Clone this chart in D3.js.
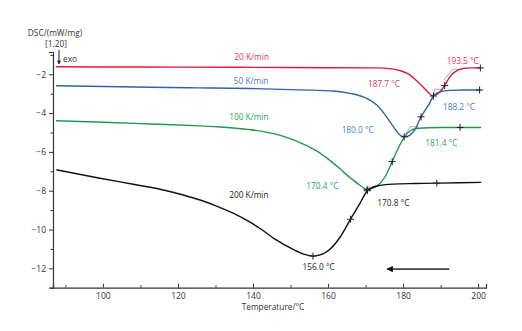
<!DOCTYPE html>
<html><head><meta charset="utf-8">
<script src="https://cdn.jsdelivr.net/npm/d3@7"></script>
<style>
html,body{margin:0;padding:0;background:#fff;}
svg{display:block;font-family:"Open Sans",sans-serif;}
</style></head>
<body>
<svg id="chart" width="522" height="331"></svg>
<script>
// ---- data ----
const redT   = [87.5, 100, 120, 140, 160, 172, 177, 179.2, 181.9, 183.6, 185.4, 186.8, 187.7, 189.4, 190.9, 192.5, 194.3, 196.1, 198, 200.8];
const redV   = [-1.61, -1.62, -1.63, -1.64, -1.66, -1.67, -1.72, -1.81, -2.04, -2.33, -2.67, -2.95, -3.10, -2.98, -2.64, -2.12, -1.81, -1.70, -1.67, -1.67];
const blueT  = [87.5, 100, 112.5, 125, 139.2, 152.5, 161.4, 165.9, 170.3, 173, 175.6, 177.4, 179.2, 180.3, 181.9, 183.2, 184.8, 186.8, 188.1, 189.9, 192.5, 196, 200.6];
const blueV  = [-2.59, -2.63, -2.67, -2.70, -2.73, -2.80, -2.86, -2.98, -3.24, -3.58, -4.19, -4.70, -5.13, -5.22, -5.13, -4.84, -4.19, -3.58, -3.12, -2.90, -2.83, -2.81, -2.81];
const greenT = [87.5, 100, 112.5, 125.9, 130.3, 139.2, 146.3, 149.9, 152.5, 155.2, 157, 159, 161.4, 163.6, 165.9, 168.5, 170.4, 173, 175.2, 177.1, 178.7, 180.3, 181.9, 184.1, 189.9, 195, 200.8];
const greenV = [-4.39, -4.47, -4.56, -4.66, -4.70, -4.85, -5.10, -5.32, -5.52, -5.76, -5.95, -6.22, -6.58, -6.95, -7.33, -7.72, -7.93, -7.76, -7.28, -6.50, -5.81, -5.25, -4.91, -4.78, -4.74, -4.74, -4.74];
const blackT = [87.6, 99.2, 108.1, 117, 121.4, 125.9, 130.3, 134.7, 139.2, 141.9, 146.3, 150.7, 153.5, 156.0, 159.7, 163.2, 166, 168.5, 170.5, 173, 177.4, 183, 189, 195, 200.8];
const blackV = [-6.92, -7.36, -7.67, -8.0, -8.22, -8.48, -8.79, -9.16, -9.62, -9.95, -10.55, -11.03, -11.27, -11.37, -11.14, -10.40, -9.47, -8.65, -8.0, -7.76, -7.66, -7.63, -7.61, -7.59, -7.57];

const seriesNames = ["20 K/min", "50 K/min", "100 K/min", "200 K/min"];

// "+" evaluation markers [T, value]
const redMarks   = [[191.1, -2.58], [200.6, -1.67]];
const blueMarks  = [[180.3, -5.22], [184.8, -4.19], [188.1, -3.12], [200.4, -2.81]];
const greenMarks = [[170.4, -7.93], [177.1, -6.50], [195.2, -4.74]];
const blackMarks = [[156.0, -11.37], [166.0, -9.47], [170.5, -8.0], [189.0, -7.61]];

// onset tangent constructions [T, value]
const redTangent   = [[190.9, -2.29], [193.2, -1.74], [194.8, -1.74]];
const blueTangent  = [[188.0, -3.12], [188.5, -2.77], [190.3, -2.77]];
const greenTangent = [[180.5, -5.13], [181.9, -4.70], [184.0, -4.70]];
const blackTangent = [[168.1, -8.82], [170.7, -7.82], [173.0, -7.81]];

// peak / onset result labels
const redLabels   = ["187.7 °C", "193.5 °C"];
const blueLabels  = ["180.0 °C", "188.2 °C"];
const greenLabels = ["181.4 °C", "170.4 °C"];
const blackLabels = ["170.8 °C", "156.0 °C"];

const xTicks = [100, 120, 140, 160, 180, 200];
const yTicks = [-2, -4, -6, -8, -10, -12];

// ---- layout ----
const svg = d3.select("#chart");
const x = d3.scaleLinear().domain([86.7, 202.1]).range([53, 486]);
const y = d3.scaleLinear().domain([-13, -0.85]).range([287.7, 52]);

const cRed = "#e3173e", cBlue = "#3163aa", cGreen = "#1f9a4b", cBlack = "#111";
const tRed = "#e0354f", tBlue = "#4a7cbf", tGreen = "#2fa35a", tBlack = "#222";

// axes
const xAxis = d3.axisBottom(x).tickValues(xTicks).tickSize(-4).tickPadding(5).tickFormat(d3.format("d"));
const gx = svg.append("g").attr("transform", `translate(0,${y(-13)})`).call(xAxis);
gx.select(".domain").attr("stroke", "#333").attr("stroke-width", 1.2);
gx.selectAll(".tick line").attr("stroke", "#333");
gx.selectAll(".tick text").attr("font-size", 8.5).attr("fill", "#333").attr("font-family", "Open Sans");
const xMinor = d3.axisBottom(x).tickValues([90, 110, 130, 150, 170, 190]).tickSize(-2.5).tickFormat("");
const gxm = svg.append("g").attr("transform", `translate(0,${y(-13)})`).call(xMinor);
gxm.select(".domain").remove();
gxm.selectAll(".tick line").attr("stroke", "#333");

const yAxis = d3.axisLeft(y).tickValues(yTicks).tickSize(4).tickPadding(3).tickFormat(d3.format("d"));
const gy = svg.append("g").attr("transform", `translate(${x(86.7)},0)`).call(yAxis);
gy.select(".domain").attr("stroke", "#333").attr("stroke-width", 1.2);
gy.selectAll(".tick line").attr("stroke", "#333");
gy.selectAll(".tick text").attr("font-size", 8.5).attr("fill", "#333").attr("font-family", "Open Sans");
const yMinor = d3.axisLeft(y).tickValues([-1, -3, -5, -7, -9, -11, -13]).tickSize(2.5).tickFormat("");
const gym = svg.append("g").attr("transform", `translate(${x(86.7)},0)`).call(yMinor);
gym.select(".domain").remove();
gym.selectAll(".tick line").attr("stroke", "#333");

// axis titles
svg.append("text").attr("x", 55).attr("y", 36).attr("text-anchor", "middle")
  .attr("font-size", 8.3).attr("fill", "#333").text("DSC/(mW/mg)");
svg.append("text").attr("x", 56).attr("y", 47).attr("text-anchor", "middle")
  .attr("font-size", 8.3).attr("fill", "#333").text("[1.20]");
svg.append("text").attr("x", 273).attr("y", 310).attr("text-anchor", "middle")
  .attr("font-size", 8.3).attr("fill", "#333").text("Temperature/°C");

// exo arrow
svg.append("defs").html(
  '<marker id="ah" viewBox="0 0 10 10" refX="9" refY="5" markerWidth="4" markerHeight="4" orient="auto"><path d="M0,0L10,5L0,10z" fill="#222"/></marker>' +
  '<marker id="bh" viewBox="0 0 10 10" refX="9" refY="5" markerWidth="6" markerHeight="3.6" orient="auto"><path d="M0,0L10,5L0,10z" fill="#111"/></marker>'
);
svg.append("line").attr("x1", 59).attr("x2", 59).attr("y1", 50).attr("y2", 64)
  .attr("stroke", "#222").attr("stroke-width", 1).attr("marker-end", "url(#ah)");
svg.append("text").attr("x", 63).attr("y", 62).attr("font-size", 8.3).attr("fill", "#333").text("exo");

// curves
const line = d3.line().x(d => x(d[0])).y(d => y(d[1])).curve(d3.curveMonotoneX);
const tline = d3.line().x(d => x(d[0])).y(d => y(d[1]));
const series = [
  {T: redT, V: redV, c: cRed, tc: tRed, marks: redMarks, tan: redTangent},
  {T: blueT, V: blueV, c: cBlue, tc: tBlue, marks: blueMarks, tan: blueTangent},
  {T: greenT, V: greenV, c: cGreen, tc: tGreen, marks: greenMarks, tan: greenTangent},
  {T: blackT, V: blackV, c: cBlack, tc: tBlack, marks: blackMarks, tan: blackTangent}
];
series.forEach(s => {
  svg.append("path").datum(s.tan).attr("d", tline).attr("fill", "none")
    .attr("stroke", "#9a9a9a").attr("stroke-width", 0.8);
});
series.forEach(s => {
  const pts = s.T.map((t, i) => [t, s.V[i]]);
  svg.append("path").datum(pts).attr("d", line).attr("fill", "none")
    .attr("stroke", s.c).attr("stroke-width", 1.4);
});
series.forEach(s => {
  const g = svg.append("g");
  s.marks.forEach(m => {
    const cx = x(m[0]), cy = y(m[1]);
    g.append("line").attr("x1", cx - 3.5).attr("x2", cx + 3.5).attr("y1", cy).attr("y2", cy).attr("stroke", "#222").attr("stroke-width", 1);
    g.append("line").attr("x1", cx).attr("x2", cx).attr("y1", cy - 3.5).attr("y2", cy + 3.5).attr("stroke", "#222").attr("stroke-width", 1);
  });
});

// series name labels
const nameAnchors = [[139.65, -1.12], [139.5, -2.36], [138.9, -4.22], [138.9, -8.24]];
seriesNames.forEach((n, i) => {
  svg.append("text").attr("x", x(nameAnchors[i][0])).attr("y", y(nameAnchors[i][1]) + 3)
    .attr("text-anchor", "middle").attr("font-size", 8.3).attr("fill", series[i].tc).text(n);
});

// result labels
const resultAnchors = [
  [[174.9, -2.52], [195.9, -1.30]],
  [[167.9, -4.87], [194.9, -3.67]],
  [[190.2, -5.53], [158.5, -7.76]],
  [[177.4, -8.65], [157.5, -11.95]]
];
[redLabels, blueLabels, greenLabels, blackLabels].forEach((labs, i) => {
  labs.forEach((t, j) => {
    const a = resultAnchors[i][j];
    svg.append("text").attr("x", x(a[0])).attr("y", y(a[1]) + 3)
      .attr("text-anchor", "middle").attr("font-size", 8.3).attr("fill", series[i].tc).text(t);
  });
});

// direction arrow (cooling)
const arrowT = [192.3, 175.2];
svg.append("line").attr("x1", x(arrowT[0])).attr("x2", x(arrowT[1]) + 2)
  .attr("y1", y(-12.04)).attr("y2", y(-12.04))
  .attr("stroke", "#444").attr("stroke-width", 1.8).attr("marker-end", "url(#bh)");
</script>
</body></html>
